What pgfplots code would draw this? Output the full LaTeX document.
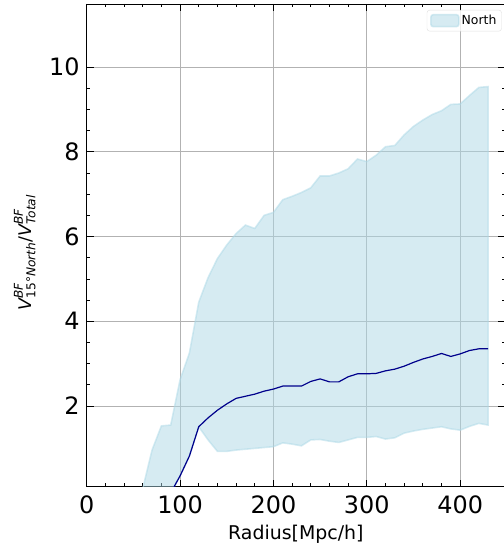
\documentclass[border=0pt]{standalone}
\usepackage{fontspec}
\setmainfont{DejaVu Sans}
\usepackage{amsmath}
\usepackage{pgfplots}
\usepackage{pgfplotstable}
\pgfplotsset{compat=1.18}
\usepgfplotslibrary{fillbetween}

\definecolor{bandblue}{RGB}{173,216,230}
\definecolor{meanblue}{RGB}{0,0,139}

% x, upper and lower edge of the band
\pgfplotstableread{
x    up    lo
60   0.05  -1.00
70   0.96  -0.80
80   1.53  -0.50
90   1.55  -0.05
100  2.62   0.35
110  3.25   0.82
120  4.45   1.51
130  5.03   1.20
140  5.48   0.93
150  5.80   0.93
160  6.07   0.96
170  6.27   0.98
180  6.19   1.00
190  6.50   1.02
200  6.57   1.04
210  6.87   1.13
220  6.95   1.10
230  7.04   1.06
240  7.15   1.20
250  7.43   1.21
260  7.43   1.17
270  7.50   1.14
280  7.60   1.20
290  7.83   1.26
300  7.77   1.26
310  7.92   1.28
320  8.12   1.22
330  8.15   1.25
340  8.40   1.36
350  8.60   1.41
360  8.75   1.45
370  8.88   1.48
380  8.97   1.51
390  9.12   1.46
400  9.13   1.43
410  9.33   1.52
420  9.52   1.59
430  9.54   1.55
}\band

% mean curve
\pgfplotstableread{
x    m
90   -0.05
100  0.35
110  0.82
120  1.51
130  1.72
140  1.90
150  2.05
160  2.18
170  2.23
180  2.28
190  2.35
200  2.40
210  2.47
220  2.47
230  2.47
240  2.58
250  2.64
260  2.57
270  2.57
280  2.69
290  2.76
300  2.76
310  2.77
320  2.83
330  2.87
340  2.94
350  3.03
360  3.11
370  3.17
380  3.24
390  3.17
400  3.23
410  3.31
420  3.35
430  3.35
}\meancurve

\begin{document}
\begin{tikzpicture}
\begin{axis}[
    scale only axis,
    width=418.3bp, height=482.7bp,
    xmin=0, xmax=448,
    ymin=0.095, ymax=11.49,
    xtick={0,100,...,400},
    ytick={2,4,...,10},
    minor x tick num=4,
    minor y tick num=3,
    tick align=inside,
    major tick length=7bp,
    minor tick length=3.5bp,
    every tick/.style={black, line width=0.8bp},
    axis line style={black, line width=0.9bp},
    grid=major,
    major grid style={gray!60, line width=0.8bp},
    /pgf/number format/assume math mode=true,
    ticklabel style={font=\fontsize{24}{28}\selectfont, inner sep=0bp},
    yticklabel style={xshift=-7bp},
    xticklabel style={yshift=-9bp},
    xlabel={Radius[Mpc/h]},
    xlabel style={font=\fontsize{19}{22}\selectfont, at={(axis description cs:0.5,-0.109)}, anchor=base},
    ylabel={$\textit{V}^{\textit{BF}}_{\text{15°}\textit{North}}\text{/}\textit{V}^{\textit{BF}}_{\textit{Total}}$},
    ylabel style={font=\fontsize{17.5}{20}\selectfont, at={(axis description cs:-0.133,0.485)}, anchor=base},
    legend style={at={(axis description cs:0.992,0.9876)}, anchor=north east,
        draw=gray!25, rounded corners=2.5bp, fill=white, fill opacity=0.8, text opacity=1,
        font=\fontsize{12.5}{14}\selectfont, inner xsep=3bp, inner ysep=3bp},
    area legend/.style={legend image code/.code={\draw[##1] (0bp,-6bp) rectangle (28bp,6bp);}},
]
\addplot[name path=up, draw=none, forget plot] table[x=x, y=up] {\band};
\addplot[name path=lo, draw=none, forget plot] table[x=x, y=lo] {\band};
\addplot[fill=bandblue, fill opacity=0.5, draw=bandblue, draw opacity=0.5, line width=1.6bp]
    fill between[of=up and lo];
\addlegendentry{North}
\addplot[meanblue, line width=1.2bp, forget plot] table[x=x, y=m] {\meancurve};
\coordinate (SW) at (axis description cs:0,0);
\coordinate (NE) at (axis description cs:1,1);
\end{axis}
\pgfresetboundingbox
\path ([shift={(-86.7bp,-60.3bp)}]SW) rectangle ([shift={(-1bp,4bp)}]NE);
\end{tikzpicture}
\end{document}
